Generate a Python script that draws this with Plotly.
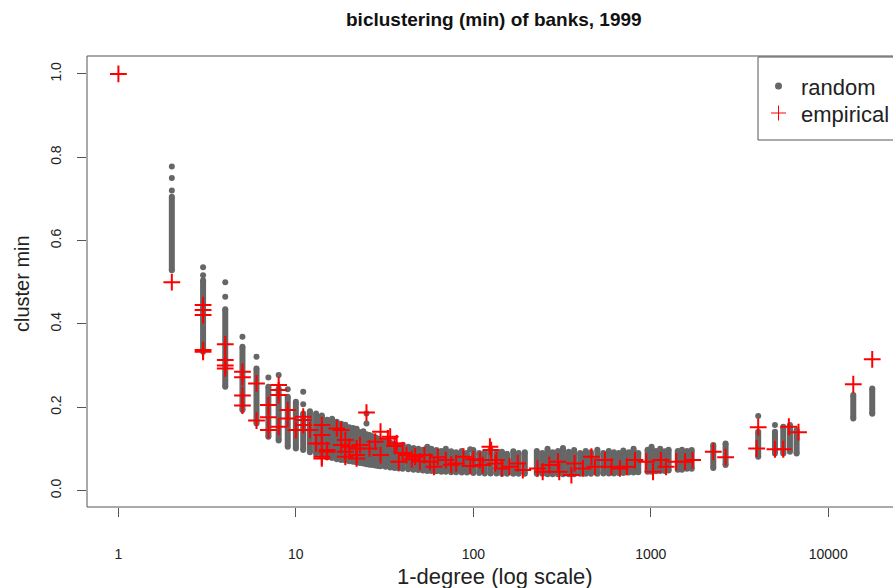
import plotly.graph_objects as go

# ---------------- data ----------------
# random: vertical spread (min..max) of simulated cluster minima per degree
rand_deg = [2, 3, 4, 5, 6, 7, 8, 9, 10, 11, 12, 13, 14, 15, 16, 17, 18, 19, 20,
            21, 22, 23, 24, 25, 26, 27, 28, 29, 30, 32, 34, 36, 38, 40, 43, 46, 49,
            52, 55, 58, 62, 66, 70, 75, 80, 86, 92, 100, 108, 116, 125, 135, 145,
            155, 168, 180, 195, 228, 245, 262, 280, 300, 320, 345, 370, 400, 430,
            460, 500, 540, 580, 620, 660, 700, 750, 800, 850, 960, 1010, 1070, 1130,
            1200, 1260, 1420, 1500, 1600, 1700, 2250, 2640, 4030, 5010, 5580, 6085,
            6635, 13840, 17700]
rand_lo = [0.529, 0.333, 0.249, 0.193, 0.161, 0.129, 0.120, 0.105, 0.101, 0.097,
           0.092, 0.088, 0.082, 0.080, 0.078, 0.075, 0.073, 0.072, 0.070, 0.069, 0.067,
           0.066, 0.065, 0.063, 0.062, 0.061, 0.060, 0.059, 0.058, 0.057, 0.055, 0.054,
           0.053, 0.052, 0.051, 0.050, 0.049, 0.048, 0.047, 0.047, 0.046, 0.045, 0.045,
           0.044, 0.044, 0.043, 0.043, 0.042, 0.042, 0.041, 0.041, 0.041, 0.040, 0.040,
           0.040, 0.040, 0.040, 0.040, 0.040, 0.039, 0.039, 0.039, 0.039, 0.039, 0.039,
           0.040, 0.040, 0.040, 0.040, 0.041, 0.041, 0.041, 0.042, 0.042, 0.043, 0.043,
           0.044, 0.045, 0.045, 0.046, 0.047, 0.047, 0.048, 0.050, 0.050, 0.052, 0.052,
           0.054, 0.061, 0.081, 0.089, 0.089, 0.093, 0.089, 0.173, 0.184]
rand_hi = [0.705, 0.505, 0.435, 0.345, 0.293, 0.249, 0.245, 0.225, 0.213, 0.185,
           0.190, 0.185, 0.180, 0.170, 0.172, 0.165, 0.160, 0.158, 0.152, 0.150, 0.148,
           0.140, 0.142, 0.135, 0.133, 0.130, 0.128, 0.125, 0.120, 0.118, 0.115, 0.112,
           0.108, 0.110, 0.105, 0.102, 0.100, 0.098, 0.105, 0.100, 0.097, 0.095, 0.100,
           0.094, 0.092, 0.095, 0.090, 0.097, 0.090, 0.092, 0.098, 0.090, 0.093, 0.088,
           0.094, 0.090, 0.092, 0.095, 0.090, 0.100, 0.092, 0.095, 0.102, 0.093, 0.097,
           0.090, 0.095, 0.092, 0.098, 0.090, 0.095, 0.092, 0.090, 0.096, 0.092, 0.100,
           0.090, 0.098, 0.105, 0.095, 0.100, 0.094, 0.098, 0.095, 0.098, 0.095, 0.097,
           0.109, 0.113, 0.141, 0.141, 0.153, 0.157, 0.145, 0.229, 0.245]
# isolated random points above the strips
rand_out_deg = [2, 2, 2, 3, 3, 4, 4, 5, 6, 7, 8, 9, 11, 11, 14, 23, 25, 25, 96, 4030, 5010]
rand_out_y = [0.72, 0.75, 0.778, 0.517, 0.536, 0.465, 0.50, 0.369, 0.321, 0.271, 0.277,
              0.243, 0.237, 0.207, 0.177, 0.136, 0.161, 0.185, 0.099, 0.179, 0.157]

# empirical cluster minima
emp_deg = [1, 2, 3, 3, 3, 3, 3, 4, 4, 4, 4, 5, 5, 5, 5, 6, 6, 7, 7, 7, 8, 8, 8, 8, 9, 9,
           10, 11, 11, 11, 12, 13, 14, 14, 14, 14, 14, 15, 15, 17, 18, 18, 19, 19, 19,
           20, 22, 22, 22, 23, 25, 26, 28, 30, 30, 33, 34, 36, 37, 38, 40, 42, 45, 47,
           50, 53, 57, 60, 63, 70, 75, 80, 88, 96, 100, 109, 113, 124, 126, 133, 135,
           145, 160, 178, 190, 230, 246, 268, 300, 305, 357, 372, 415, 463, 484, 552,
           600, 670, 733, 815, 943, 1030, 1140, 1220, 1390, 1560, 1720, 2250, 2640,
           3950, 4030, 5010, 5580, 6000, 6800, 13840, 17700]
emp_y = [1.0, 0.50, 0.445, 0.433, 0.421, 0.337, 0.333, 0.351, 0.313, 0.300, 0.293,
         0.285, 0.272, 0.228, 0.204, 0.257, 0.168, 0.205, 0.176, 0.145, 0.253, 0.241,
         0.229, 0.153, 0.193, 0.173, 0.145, 0.177, 0.169, 0.157, 0.145, 0.113, 0.157,
         0.133, 0.113, 0.081, 0.077, 0.097, 0.093, 0.149, 0.145, 0.109, 0.121, 0.093,
         0.081, 0.105, 0.101, 0.085, 0.077, 0.109, 0.187, 0.101, 0.117, 0.141, 0.085,
         0.125, 0.129, 0.107, 0.113, 0.069, 0.090, 0.085, 0.075, 0.081, 0.070, 0.085,
         0.069, 0.057, 0.080, 0.073, 0.062, 0.065, 0.081, 0.059, 0.075, 0.073, 0.061,
         0.105, 0.097, 0.065, 0.073, 0.053, 0.057, 0.065, 0.049, 0.053, 0.045, 0.061,
         0.069, 0.045, 0.037, 0.065, 0.053, 0.081, 0.057, 0.073, 0.057, 0.053, 0.057,
         0.073, 0.069, 0.045, 0.073, 0.057, 0.069, 0.069, 0.073, 0.093, 0.080, 0.101,
         0.152, 0.099, 0.099, 0.153, 0.140, 0.255, 0.315]

x_tickvals = [1, 10, 100, 1000, 10000]
x_ticktext = ["1", "10", "100", "1000", "10000"]
y_tickvals = [0.0, 0.2, 0.4, 0.6, 0.8, 1.0]
y_ticktext = ["0.0", "0.2", "0.4", "0.6", "0.8", "1.0"]

GRAY = "#666666"
RED = "#ff0000"
FONT = "Liberation Sans, Arial, sans-serif"
AXC = "#555555"

# build strip segments
seg_x, seg_y = [], []
for d, lo, hi in zip(rand_deg, rand_lo, rand_hi):
    seg_x += [d, d, None]
    seg_y += [lo, hi, None]

fig = go.Figure()
fig.add_trace(go.Scatter(x=seg_x, y=seg_y, mode="lines+markers",
                         line=dict(color=GRAY, width=6),
                         marker=dict(color=GRAY, size=6, symbol="circle"),
                         showlegend=False, hoverinfo="skip"))
fig.add_trace(go.Scatter(x=rand_out_deg, y=rand_out_y, mode="markers",
                         marker=dict(color=GRAY, size=6, symbol="circle"),
                         showlegend=False))
fig.add_trace(go.Scatter(x=emp_deg, y=emp_y, mode="markers",
                         marker=dict(symbol="cross-thin-open", size=12, color=RED,
                                     line=dict(color=RED, width=2)),
                         showlegend=False))

L, T, B = 87, 56, 81
W, H = 893, 588
pw = W - L
ph = H - T - B

fig.update_layout(
    width=W, height=H,
    margin=dict(l=L, r=0, t=T, b=B, pad=0),
    paper_bgcolor="white", plot_bgcolor="white",
    font=dict(family=FONT, color="#222222"),
    showlegend=False,
)
fig.update_xaxes(type="log", range=[-0.177, 4.365], tickvals=x_tickvals,
                 ticktext=x_ticktext, ticks="outside", ticklen=9, tickwidth=1,
                 tickcolor=AXC, showgrid=False, zeroline=False, showline=False,
                 tickfont=dict(size=14, family=FONT, color="#222222"),
                 ticklabelstandoff=25)
fig.update_yaxes(range=[-0.0396, 1.043], tickvals=y_tickvals, ticktext=y_ticktext,
                 ticks="outside", ticklen=9, tickwidth=1, tickcolor=AXC,
                 showgrid=False, zeroline=False, showline=False, tickangle=-90,
                 tickfont=dict(size=14, family=FONT, color="#222222"),
                 ticklabelstandoff=10)

# plot frame (right side extends past the window, as in the original)
fig.add_shape(type="rect", xref="paper", yref="paper", x0=0, x1=1.05, y0=0, y1=1,
              line=dict(color=AXC, width=1), fillcolor="rgba(0,0,0,0)", layer="above")

def px_x(p):
    return (p - L) / pw

def px_y(p):
    return (H - B - p) / ph

# title and axis titles
fig.add_annotation(text="<b>biclustering (min) of banks, 1999</b>", xref="paper", yref="paper",
                   x=px_x(494), y=px_y(20), showarrow=False, xanchor="center", yanchor="middle",
                   font=dict(size=19, family=FONT, color="#111111"))
fig.add_annotation(text="1-degree (log scale)", xref="paper", yref="paper",
                   x=px_x(495), y=px_y(576), showarrow=False, xanchor="center", yanchor="middle",
                   font=dict(size=22, family=FONT, color="#222222"))
fig.add_annotation(text="cluster min", xref="paper", yref="paper", textangle=-90,
                   x=px_x(22), y=px_y(284), showarrow=False, xanchor="center", yanchor="middle",
                   font=dict(size=20, family=FONT, color="#222222"))

# legend box (cut by the right edge like the original)
fig.add_shape(type="rect", xref="paper", yref="paper", x0=px_x(758), x1=px_x(920),
              y0=px_y(140), y1=px_y(57), line=dict(color=AXC, width=1),
              fillcolor="white", layer="above")
fig.add_shape(type="circle", xref="paper", yref="paper",
              x0=px_x(775), x1=px_x(782), y0=px_y(89.5), y1=px_y(82.5),
              line=dict(color=GRAY, width=0), fillcolor=GRAY, layer="above")
fig.add_shape(type="line", xref="paper", yref="paper", x0=px_x(771), x1=px_x(786),
              y0=px_y(113), y1=px_y(113), line=dict(color=RED, width=1), layer="above")
fig.add_shape(type="line", xref="paper", yref="paper", x0=px_x(778.5), x1=px_x(778.5),
              y0=px_y(105.5), y1=px_y(120.5), line=dict(color=RED, width=1), layer="above")
fig.add_annotation(text="random", xref="paper", yref="paper", x=px_x(799), y=px_y(87),
                   showarrow=False, xanchor="left", yanchor="middle",
                   font=dict(size=22, family=FONT, color="#222222"))
fig.add_annotation(text="empirical", xref="paper", yref="paper", x=px_x(799), y=px_y(114),
                   showarrow=False, xanchor="left", yanchor="middle",
                   font=dict(size=22, family=FONT, color="#222222"))

fig.write_html("out.html")
